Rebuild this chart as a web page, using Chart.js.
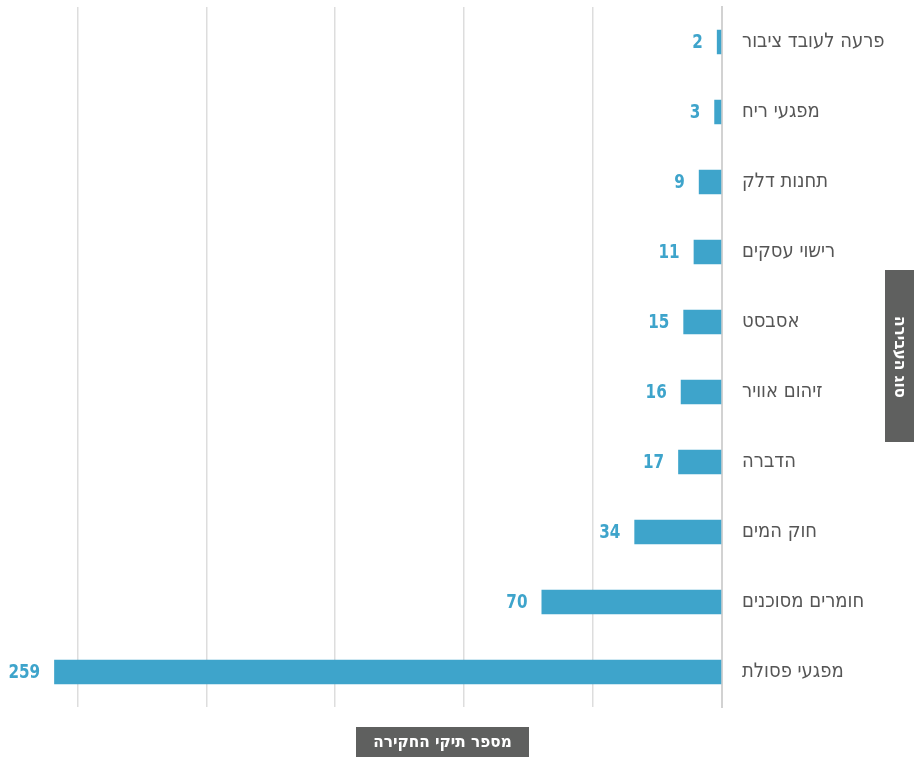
<!DOCTYPE html>
<html>
<head>
<meta charset="utf-8">
<script src="https://cdn.jsdelivr.net/npm/chart.js@4/dist/chart.umd.min.js"></script>
<style>
  body { margin: 0; background: #fff; }
  #wrap { width: 914px; height: 758px; position: relative; }
</style>
</head>
<body>
<div id="wrap"><canvas id="myChart"></canvas></div>
<script>
// categories (top to bottom)
var categories = ['הפרעה לעובד ציבור', 'מפגעי ריח', 'תחנות דלק', 'רישוי עסקים', 'אסבסט',
  'זיהום אוויר', 'הדברה', 'חוק המים', 'חומרים מסוכנים', 'מפגעי פסולת'];
// number of investigation files
var caseCounts = [2, 3, 9, 11, 15, 16, 17, 34, 70, 259];
var xTitle = 'מספר תיקי החקירה';
var yTitle = 'סוג העבירה';

var labelFont = "'DejaVu Sans Condensed', sans-serif";
var blue = '#3ea4cb';
var boxGray = '#5f605f';

// value labels next to bar ends
var valueLabels = {
  id: 'valueLabels',
  afterDatasetsDraw: function(chart) {
    var ctx = chart.ctx;
    var meta = chart.getDatasetMeta(0);
    ctx.save();
    ctx.fillStyle = blue;
    ctx.font = "bold 20px 'DejaVu Sans'";
    ctx.textAlign = 'right';
    ctx.textBaseline = 'middle';
    meta.data.forEach(function(bar, i) {
      // squeeze the digits, the original uses a condensed face
      ctx.save();
      ctx.translate(bar.x - 14, bar.y + 1);
      ctx.scale(0.76, 1);
      ctx.fillText(caseCounts[i], 0, 0);
      ctx.restore();
    });
    ctx.restore();
  }
};

// axis titles in grey boxes
var titleBoxes = {
  id: 'titleBoxes',
  afterDraw: function(chart) {
    var ctx = chart.ctx;
    var area = chart.chartArea;
    ctx.save();
    ctx.font = 'bold 17px ' + labelFont;
    ctx.textBaseline = 'middle';
    ctx.textAlign = 'center';
    // bottom
    ctx.fillStyle = boxGray;
    ctx.fillRect(356, area.bottom + 20, 173, 30);
    ctx.fillStyle = '#fff';
    ctx.fillText(xTitle, 442.5, area.bottom + 36);
    // right
    var cy = (area.top + area.bottom) / 2;
    ctx.fillStyle = boxGray;
    ctx.fillRect(chart.width - 29, cy - 87, 29, 172);
    ctx.translate(chart.width - 14, cy);
    ctx.rotate(Math.PI / 2);
    ctx.fillStyle = '#fff';
    ctx.fillText(yTitle, 0, 1);
    ctx.restore();
  }
};

var ctx = document.getElementById('myChart').getContext('2d');
var myChart = new Chart(ctx, {
  type: 'bar',
  data: {
    labels: categories,
    datasets: [{
      data: caseCounts,
      backgroundColor: blue,
      borderWidth: 0,
      categoryPercentage: 1,
      barPercentage: 0.35
    }]
  },
  options: {
    indexAxis: 'y',
    responsive: true,
    maintainAspectRatio: false,
    animation: false,
    layout: { padding: { top: 7, bottom: 51, right: 29, left: 0 } },
    plugins: {
      legend: { display: false },
      tooltip: { enabled: false }
    },
    scales: {
      x: {
        reverse: true,
        min: 0,
        max: 280,
        ticks: { display: false, stepSize: 50 },
        grid: {
          drawTicks: false,
          lineWidth: 1.5,
          color: function(c) { return c.tick && c.tick.value === 280 ? 'rgba(0,0,0,0)' : '#dddddd'; }
        },
        border: { display: false }
      },
      y: {
        position: 'right',
        grid: { display: false, drawTicks: false },
        border: { display: true, color: '#d2d2d2', width: 2 },
        ticks: {
          color: '#555555',
          padding: 20,
          font: { family: labelFont, size: 20 }
        },
        afterFit: function(scale) {
          scale.width = 163;
          scale.paddingTop = 0;
          scale.paddingBottom = 0;
        }
      }
    }
  },
  plugins: [valueLabels, titleBoxes]
});
</script>
</body>
</html>
